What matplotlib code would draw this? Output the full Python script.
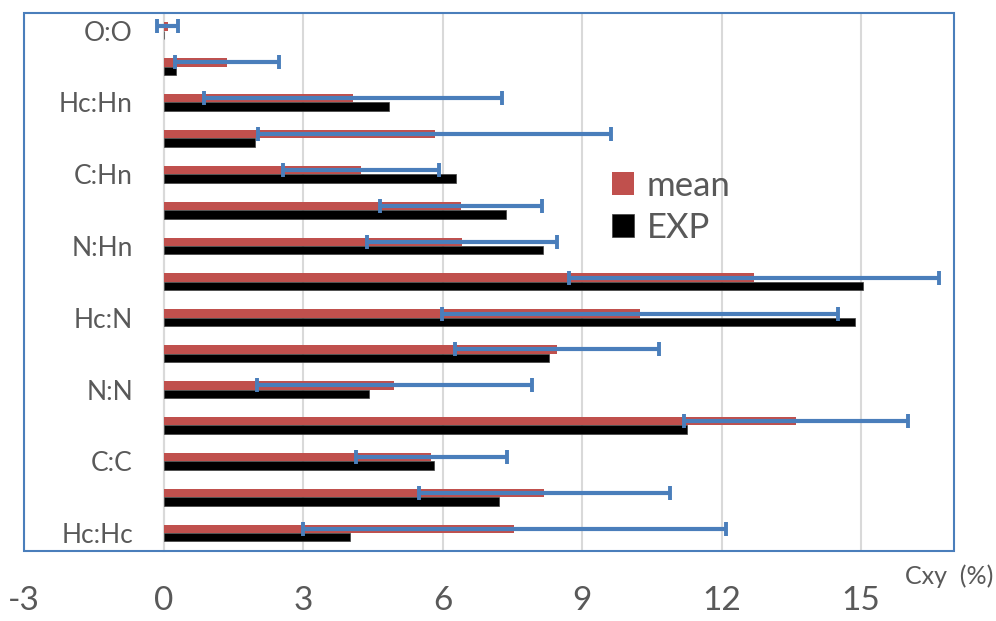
import matplotlib
matplotlib.use("Agg")
import matplotlib.pyplot as plt
from matplotlib.patches import Rectangle
import numpy as np

plt.rcParams['font.family'] = ['Lato', 'DejaVu Sans']

# Data (bottom to top)
categories = ["Hc:Hc", "", "C:C", "", "N:N", "", "Hc:N", "", "N:Hn", "", "C:Hn", "", "Hc:Hn", "", "O:O"]
mean_vals = [7.54, 8.19, 5.76, 13.60, 4.96, 8.46, 10.24, 12.70, 6.42, 6.40, 4.24, 5.83, 4.07, 1.36, 0.09]
exp_vals = [4.00, 7.21, 5.82, 11.26, 4.41, 8.30, 14.88, 15.05, 8.16, 7.37, 6.29, 1.96, 4.85, 0.26, 0.0]
err_vals = [4.55, 2.70, 1.62, 2.41, 2.96, 2.19, 4.26, 3.97, 2.04, 1.75, 1.68, 3.80, 3.20, 1.12, 0.225]
xticks = [-3, 0, 3, 6, 9, 12, 15]

RED = "#C0504D"
BLUE = "#4A7EBB"
GRAY_TXT = "#595959"
GRID = "#D9D9D9"

fig = plt.figure(figsize=(9.96, 6.21), dpi=100)
ax = fig.add_axes([24/996, 1-551/621, (954-24)/996, (551-12.7)/621])

y = np.arange(len(categories))
h = 0.235
ax.barh(y + h/2, mean_vals, height=h, color=RED, label="mean", zorder=3)
ax.barh(y - h/2, exp_vals, height=h, color="black", edgecolor="#404040", linewidth=0.5, label="EXP", zorder=3)
ax.errorbar(mean_vals, y + h/2, xerr=err_vals, fmt='none', ecolor=BLUE,
            elinewidth=3.0, capsize=4.8, capthick=2.8, zorder=4)

ax.set_xlim(-3, 17)
ax.set_ylim(-0.5, 14.5)
ax.set_xticks(xticks)
ax.set_xticklabels([str(v) for v in xticks])
ax.set_yticks(y)
ax.set_yticklabels(categories)

ax.grid(axis='x', color=GRID, linewidth=1.5, zorder=0)
ax.set_axisbelow(True)

for s in ['top', 'right', 'bottom']:
    ax.spines[s].set_visible(False)
ax.spines['left'].set_position(('data', 0))
ax.spines['left'].set_color(GRID)
ax.spines['left'].set_linewidth(1.5)
ax.spines['left'].set_zorder(1)

ax.tick_params(axis='x', length=0, pad=25, labelsize=24, labelcolor=GRAY_TXT)
ax.tick_params(axis='y', length=0, pad=22, labelsize=19, labelcolor=GRAY_TXT)

ax.add_patch(Rectangle((0, 0), 1, 1, transform=ax.transAxes, fill=False,
                       edgecolor=BLUE, linewidth=1.5, clip_on=False, zorder=6))

leg = fig.legend(loc='upper left', bbox_to_anchor=(612/996, 1-170/621),
                 bbox_transform=fig.transFigure, frameon=False, fontsize=25,
                 handlelength=0.63, handleheight=0.63, handletextpad=0.37,
                 labelspacing=0.29, borderpad=0, borderaxespad=0)
for t in leg.get_texts():
    t.set_color(GRAY_TXT)

fig.text(993/996, 1-584/621, "Cxy  (%)", ha='right', va='baseline', fontsize=18, color=GRAY_TXT)

fig.savefig("out.png", dpi=100)
